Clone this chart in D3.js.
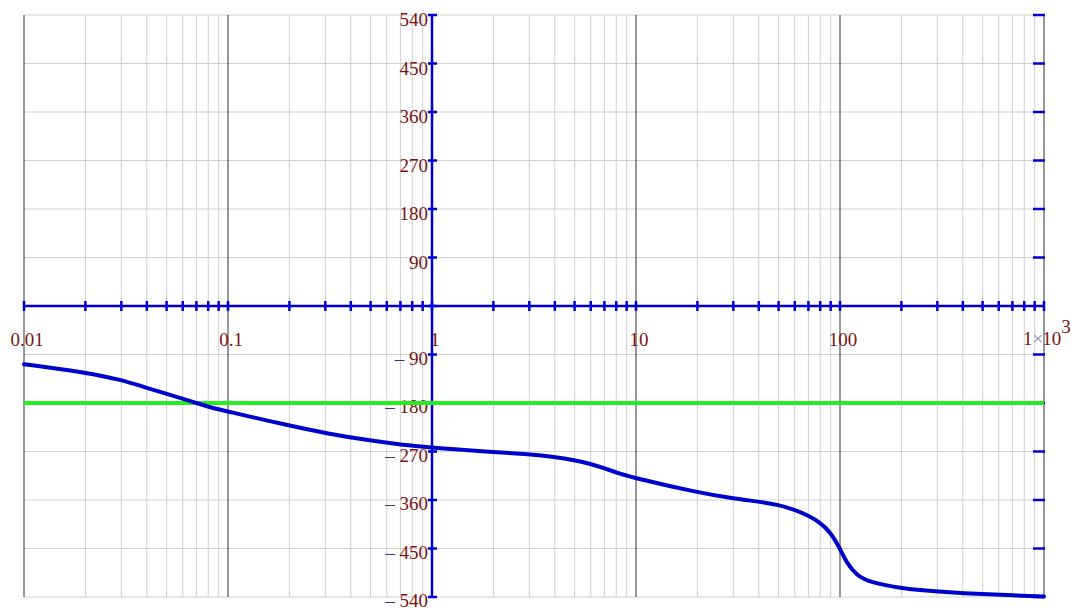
<!DOCTYPE html>
<html>
<head>
<meta charset="utf-8">
<script src="https://cdn.jsdelivr.net/npm/d3@7"></script>
<style>
  html, body { margin: 0; padding: 0; background: #ffffff; }
  svg { display: block; }
  text { font-family: "Liberation Serif", "DejaVu Serif", serif; }
</style>
</head>
<body>
<svg id="chart" width="1076" height="610"></svg>
<script>
// ---- Data ----
const freq = [0.01, 0.02, 0.03, 0.04, 0.05, 0.06, 0.07, 0.08, 0.1, 0.2, 0.3, 0.5, 0.7, 1,
  2, 3, 4, 5, 6, 7, 8, 10, 20, 30, 40, 50, 60, 70, 80, 90, 100, 108, 120, 140,
  200, 300, 400, 600, 1000];
const phase = [-108, -123, -137, -152, -163, -172, -180, -187, -196, -222, -236, -250, -257, -263,
  -271, -275, -280, -286, -293, -301, -309, -320, -346, -357, -363, -369, -378, -389, -402, -420,
  -450, -477, -499, -513, -524, -530, -533, -536, -539];
const refLevel = [-180, -180];
const refFreq = [0.01, 1000];

const xDecades = [0.01, 0.1, 1, 10, 100, 1000];
const xTickLabels = ["0.01", "0.1", "1", "10", "100", "1×10³"];
const yTicks = [-540, -450, -360, -270, -180, -90, 0, 90, 180, 270, 360, 450, 540];

// ---- Layout ----
const svg = d3.select("#chart");
const x = d3.scaleLog().domain([0.01, 1000]).range([24, 1044]);
const y = d3.scaleLinear().domain([-540, 540]).range([597, 15]);

const blue = "#0000d2";
const labelColor = "#7a1414";
const minusColor = "#33337a";

// minor grid (2..9 of each decade)
const minors = [];
for (let d = 0; d < xDecades.length - 1; d++) {
  for (let k = 2; k <= 9; k++) minors.push(xDecades[d] * k);
}
svg.append("g").selectAll("line").data(minors).join("line")
  .attr("x1", d => x(d)).attr("x2", d => x(d))
  .attr("y1", y(540)).attr("y2", y(-540))
  .attr("stroke", "#cfcfcf").attr("stroke-width", 1);

// horizontal grid
svg.append("g").selectAll("line").data(yTicks).join("line")
  .attr("x1", x(0.01)).attr("x2", x(1000))
  .attr("y1", d => y(d)).attr("y2", d => y(d))
  .attr("stroke", "#cfcfcf").attr("stroke-width", 1);

// decade grid (dark)
svg.append("g").selectAll("line").data(xDecades).join("line")
  .attr("x1", d => x(d)).attr("x2", d => x(d))
  .attr("y1", y(540)).attr("y2", y(-540))
  .attr("stroke", "#303030").attr("stroke-width", 1);

// horizontal axis (y = 0) with ticks at every grid frequency
const xAxisG = svg.append("g");
xAxisG.append("line")
  .attr("x1", x(0.01)).attr("x2", x(1000))
  .attr("y1", y(0)).attr("y2", y(0))
  .attr("stroke", blue).attr("stroke-width", 2.5);
xAxisG.selectAll("line.t").data(minors.concat(xDecades)).join("line")
  .attr("class", "t")
  .attr("x1", d => x(d)).attr("x2", d => x(d))
  .attr("y1", y(0) - 5).attr("y2", y(0) + 5)
  .attr("stroke", blue).attr("stroke-width", 2.5);

// vertical axis at x = 1
const yAxisG = svg.append("g");
yAxisG.append("line")
  .attr("x1", x(1)).attr("x2", x(1))
  .attr("y1", y(540)).attr("y2", y(-540))
  .attr("stroke", blue).attr("stroke-width", 2.5);
yAxisG.selectAll("line.t").data(yTicks).join("line")
  .attr("class", "t")
  .attr("x1", x(1) - 4).attr("x2", x(1) + 5)
  .attr("y1", d => y(d)).attr("y2", d => y(d))
  .attr("stroke", blue).attr("stroke-width", 2.5);

// right-edge ticks
svg.append("g").selectAll("line").data(yTicks.filter(d => d !== 0)).join("line")
  .attr("x1", x(1000) - 11).attr("x2", x(1000) + 1)
  .attr("y1", d => y(d)).attr("y2", d => y(d))
  .attr("stroke", blue).attr("stroke-width", 2.5);

// y labels
const yl = svg.append("g").attr("font-size", 19).attr("text-anchor", "end");
yTicks.filter(d => d !== 0).forEach(d => {
  const t = yl.append("text")
    .attr("x", x(1) - 4)
    .attr("y", y(d) + (d > 0 ? 11 : 10))
    .attr("fill", labelColor);
  if (d < 0) {
    t.append("tspan").attr("fill", minusColor).text("– ");
  }
  t.append("tspan").text(String(Math.abs(d)));
});

// x labels
const xl = svg.append("g").attr("font-size", 19).attr("fill", labelColor);
xDecades.forEach((d, i) => {
  if (i < xDecades.length - 1) {
    xl.append("text")
      .attr("x", x(d) + 3).attr("y", 346)
      .attr("text-anchor", "middle")
      .text(xTickLabels[i]);
  } else {
    const t = xl.append("text")
      .attr("x", x(d) - 21).attr("y", 345)
      .attr("text-anchor", "start");
    t.append("tspan").text("1");
    t.append("tspan").attr("fill", "#8a8aa8").text("×");
    t.append("tspan").attr("dx", -1).text("10");
    t.append("tspan").attr("dy", -12).text("3");
  }
});

// reference line at -180
svg.append("path")
  .datum(refFreq.map((f, i) => [f, refLevel[i]]))
  .attr("d", d3.line().x(d => x(d[0])).y(d => y(d[1])))
  .attr("stroke", "#22ee22").attr("stroke-width", 4).attr("fill", "none");

// phase curve
svg.append("path")
  .datum(freq.map((f, i) => [f, phase[i]]))
  .attr("d", d3.line().x(d => x(d[0])).y(d => y(d[1])).curve(d3.curveBasis))
  .attr("stroke", "#0000cc").attr("stroke-width", 4).attr("fill", "none")
  .attr("stroke-linecap", "round");
</script>
</body>
</html>
